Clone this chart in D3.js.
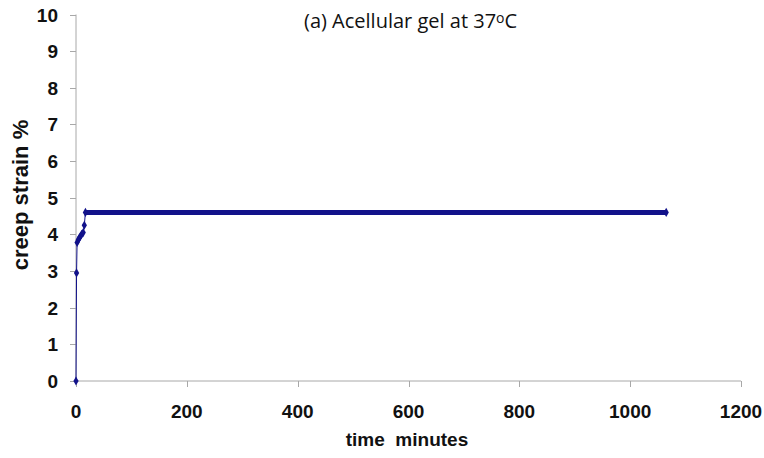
<!DOCTYPE html>
<html lang="en">
<meta charset="utf-8">
<head>
    <script src='https://d3js.org/d3.v7.min.js'></script>
</head>
<body style="margin:0;background:#fff">
</body>

<style>
	svg text.tick {
	font: bold 19px "Liberation Sans", Arial, sans-serif;
	fill: #111;
	}
	svg text.lab {
	font: bold 19px "Liberation Sans", Arial, sans-serif;
	fill: #111;
	}
</style>

<script>
// creep strain readings, early transient (minutes, %)
var times = [0, 1, 2, 4, 6, 8, 10, 13, 15];
var strain = [0, 2.95, 3.78, 3.85, 3.9, 3.95, 4.0, 4.05, 4.25];
// plateau: dense run of readings at a constant strain
var plateauTimes = [17, 1065];
var plateauStrain = [4.6, 4.6];
var xTicks = [0, 200, 400, 600, 800, 1000, 1200];
var yTicks = [0, 1, 2, 3, 4, 5, 6, 7, 8, 9, 10];

var width = 764, height = 458;
var navy = "#12128a";
var grey = "#a8a8a8";

var svg = d3.select("body").append("svg")
	.attr("width", width)
	.attr("height", height);

var x = d3.scaleLinear().domain([0, 1200]).range([76, 741]);
var y = d3.scaleLinear().domain([0, 10]).range([381, 14.5]);

// axes
svg.append("line").attr("x1", x(0)).attr("x2", x(1200))
	.attr("y1", y(0)).attr("y2", y(0)).attr("stroke", grey);
svg.append("line").attr("x1", x(0)).attr("x2", x(0))
	.attr("y1", y(0)).attr("y2", y(10)).attr("stroke", grey);

svg.selectAll(".yt").data(yTicks).enter().append("line")
	.attr("x1", x(0) - 6).attr("x2", x(0))
	.attr("y1", function(d) { return Math.round(y(d)) + 0.5; })
	.attr("y2", function(d) { return Math.round(y(d)) + 0.5; })
	.attr("stroke", grey);
svg.selectAll(".ytl").data(yTicks).enter().append("text")
	.attr("class", "tick")
	.attr("x", 58)
	.attr("y", function(d) { return y(d) + 7; })
	.attr("text-anchor", "end")
	.text(function(d) { return d; });

svg.selectAll(".xt").data(xTicks).enter().append("line")
	.attr("x1", function(d) { return Math.round(x(d)) + 0.5; })
	.attr("x2", function(d) { return Math.round(x(d)) + 0.5; })
	.attr("y1", y(0)).attr("y2", y(0) + 6)
	.attr("stroke", grey);
svg.selectAll(".xtl").data(xTicks).enter().append("text")
	.attr("class", "tick")
	.attr("x", function(d) { return x(d); })
	.attr("y", 418)
	.attr("text-anchor", "middle")
	.text(function(d) { return d; });

// series
var pts = times.map(function(t, i) { return [t, strain[i]]; });
var plat = plateauTimes.map(function(t, i) { return [t, plateauStrain[i]]; });
var line = d3.line()
	.x(function(d) { return x(d[0]); })
	.y(function(d) { return y(d[1]); });

svg.append("path").datum(pts.concat([plat[0]]))
	.attr("d", line)
	.attr("fill", "none")
	.attr("stroke", navy)
	.attr("stroke-width", 1);
svg.append("path").datum(plat)
	.attr("d", line)
	.attr("fill", "none")
	.attr("stroke", navy)
	.attr("stroke-width", 5);

var diamond = d3.symbol().type(d3.symbolDiamond).size(24);
svg.selectAll(".pt").data(pts.concat(plat)).enter().append("path")
	.attr("d", diamond)
	.attr("transform", function(d) { return "translate(" + x(d[0]) + "," + y(d[1]) + ")"; })
	.attr("fill", navy);

// labels
svg.append("text").attr("class", "lab")
	.attr("x", 407).attr("y", 446)
	.attr("text-anchor", "middle")
	.attr("xml:space", "preserve")
	.text("time  minutes");
svg.append("text").attr("class", "lab")
	.style("font-size", "22px")
	.attr("transform", "translate(28,195) rotate(-90)")
	.attr("text-anchor", "middle")
	.text("creep strain %");

var title = svg.append("text")
	.attr("x", 304).attr("y", 28)
	.style("font", "20px 'Open Sans', sans-serif")
	.attr("fill", "#111");
title.append("tspan").text("(a) Acellular gel at 37");
title.append("tspan").attr("font-size", "14px").attr("dy", -5).text("o");
title.append("tspan").attr("dy", 5).text("C");
</script>
</html>
